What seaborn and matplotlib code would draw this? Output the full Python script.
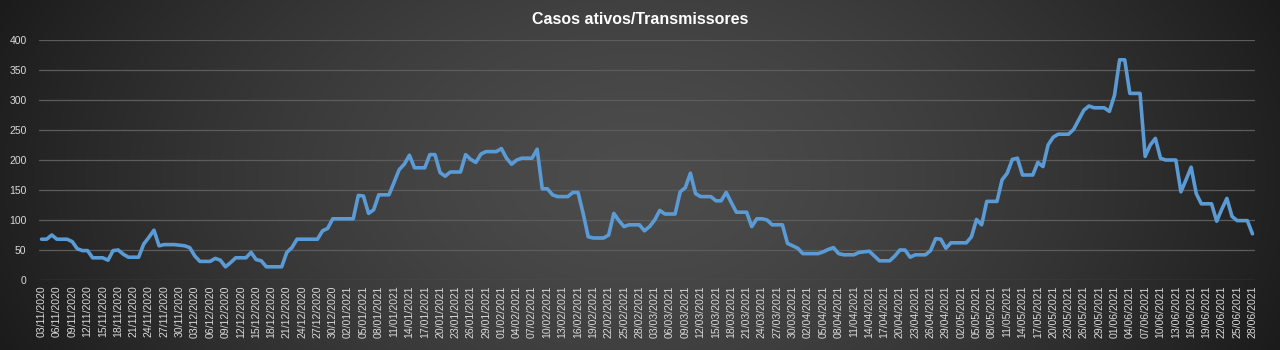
import numpy as np
import pandas as pd
import matplotlib
matplotlib.use("Agg")
import matplotlib.pyplot as plt
import seaborn as sns

sns.set_theme(style="dark")
plt.rcParams["font.family"] = ["Liberation Sans", "DejaVu Sans"]

# ---- data ----
title = "Casos ativos/Transmissores"
dates = pd.date_range("2020-11-03", "2021-06-28", freq="D")
active = [
    68, 68, 75, 68, 68, 68, 64, 52, 49, 49,
    37, 37, 37, 33, 49, 50, 43, 38, 38, 38,
    60, 71, 83, 57, 59, 59, 59, 58, 57, 54,
    40, 31, 31, 31, 36, 33, 22, 29, 37, 37,
    37, 46, 34, 32, 22, 22, 22, 22, 46, 54,
    68, 68, 68, 68, 68, 82, 86, 102, 102, 102,
    102, 102, 141, 140, 111, 117, 142, 142, 142, 163,
    184, 193, 208, 187, 187, 187, 209, 209, 179, 173,
    180, 180, 180, 209, 201, 196, 210, 214, 214, 214,
    219, 203, 193, 200, 203, 203, 203, 218, 152, 152,
    142, 139, 139, 139, 146, 146, 111, 72, 70, 70,
    70, 75, 111, 99, 89, 92, 92, 92, 82, 89,
    100, 116, 110, 110, 110, 147, 154, 178, 144, 139,
    139, 139, 132, 132, 146, 129, 113, 113, 113, 89,
    102, 102, 100, 92, 92, 92, 61, 57, 53, 44,
    44, 44, 44, 47, 51, 54, 44, 42, 42, 42,
    46, 47, 48, 40, 32, 32, 32, 40, 50, 50,
    38, 42, 42, 42, 49, 69, 68, 53, 62, 62,
    62, 62, 72, 101, 92, 131, 131, 131, 167, 178,
    201, 203, 175, 175, 175, 196, 189, 225, 238, 243,
    243, 243, 251, 267, 283, 290, 287, 287, 287, 281,
    308, 367, 367, 311, 311, 311, 206, 225, 236, 203,
    200, 200, 200, 147, 167, 188, 144, 127, 127, 127,
    98, 118, 136, 106, 99, 99, 99, 77,
]
tick_step = 3
yticks = [0, 50, 100, 150, 200, 250, 300, 350, 400]

df = pd.DataFrame({"day": np.arange(len(dates)), "active": active})

W, H = 1280, 350
fig = plt.figure(figsize=(W / 100, H / 100), dpi=100)

# radial dark gradient background
bg = fig.add_axes([0, 0, 1, 1], zorder=0)
gx, gy = np.meshgrid(np.linspace(0, 1, 640), np.linspace(0, 1, 175))
r = np.sqrt(((gx - 0.5) / 0.55) ** 2 + ((gy - 0.5) / 1.3) ** 2)
r = np.clip(r, 0, 1) ** 1.5
c0 = np.array([0x4c, 0x4c, 0x4c]) / 255
c1 = np.array([0x1a, 0x1a, 0x1a]) / 255
img = c0[None, None, :] * (1 - r[..., None]) + c1[None, None, :] * r[..., None]
bg.imshow(img, extent=[0, 1, 0, 1], aspect="auto", origin="lower")
bg.set_axis_off()

ax = fig.add_axes([39 / W, 70 / H, (1255 - 39) / W, 240 / H], zorder=1)
ax.patch.set_alpha(0)
sns.lineplot(data=df, x="day", y="active", ax=ax, color="#5B9BD5",
             linewidth=2.6, zorder=3)

ax.set_xlim(-0.5, len(dates) - 0.5)
ax.set_ylim(0, 400)
ax.set_yticks(yticks)
ax.yaxis.grid(True, color="#5c5c5c", linewidth=0.9)
ax.xaxis.grid(False)
ticks = np.arange(0, len(dates), tick_step)
ax.set_xticks(ticks)
ax.set_xticklabels([dates[i].strftime("%d/%m/%Y") for i in ticks],
                   rotation=90, fontsize=7.6, color="#d9d9d9")
ax.tick_params(axis="y", labelsize=7.5, colors="#d9d9d9", length=0, pad=9)
ax.tick_params(axis="x", length=0, pad=4)
for s in ax.spines.values():
    s.set_visible(False)
ax.set_xlabel("")
ax.set_ylabel("")

fig.text(0.5, 1 - 20 / H, title, ha="center", va="center", color="white",
         fontsize=11.5, fontweight="bold")

fig.savefig("out.png", dpi=100)
